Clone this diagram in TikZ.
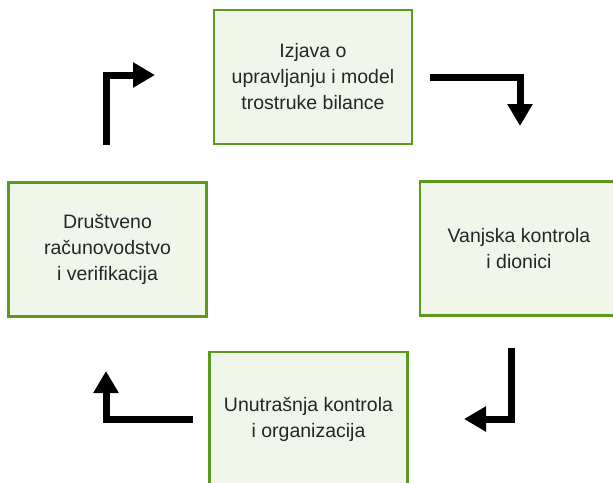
\documentclass[tikz,border=0pt]{standalone}
\usepackage{fontspec}
\setmainfont{Liberation Sans}
\usetikzlibrary{arrows.meta}
\definecolor{boxedge}{HTML}{5C9A1E}
\definecolor{boxfill}{HTML}{F1F6EB}
\tikzset{
  stagebox/.style={draw=boxedge, fill=boxfill, line width=2.5pt,
    minimum width=198pt, minimum height=134pt, inner sep=0pt,
    align=center, font=\fontsize{19.5pt}{26pt}\selectfont, text=black!85},
  flowarrow/.style={line width=7pt, line join=miter, black,
    -{Triangle[length=22pt,width=24pt]}}
}
\begin{document}
\begin{tikzpicture}[x=1pt,y=-1pt]
\useasboundingbox (0,0) rectangle (613,482);
\clip (0,0) rectangle (613,482);
\node[stagebox] (top) at (313,77) {Izjava o\\upravljanju i model\\trostruke bilance};
\node[stagebox] (right) at (519,248.5) {Vanjska kontrola\\i dionici};
\node[stagebox] (bottom) at (308.5,419) {Unutrašnja kontrola\\i organizacija};
\node[stagebox] (left) at (107.5,249.5) {Društveno\\računovodstvo\\i verifikacija};
% top-right arrow
\coordinate (trA) at (430,77);
\coordinate (trB) at (520,77);
\coordinate (trC) at (520,126);
\draw[flowarrow] (trA) -- (trB) -- (trC);
% bottom-right arrow
\coordinate (brA) at (511,348);
\coordinate (brB) at (511,419);
\coordinate (brC) at (464,419);
\draw[flowarrow] (brA) -- (brB) -- (brC);
% bottom-left arrow
\coordinate (blA) at (193,419);
\coordinate (blB) at (106,419);
\coordinate (blC) at (106,371);
\draw[flowarrow] (blA) -- (blB) -- (blC);
% top-left arrow
\coordinate (tlA) at (106,145);
\coordinate (tlB) at (106,75);
\coordinate (tlC) at (155,75);
\draw[flowarrow] (tlA) -- (tlB) -- (tlC);
\end{tikzpicture}
\end{document}
